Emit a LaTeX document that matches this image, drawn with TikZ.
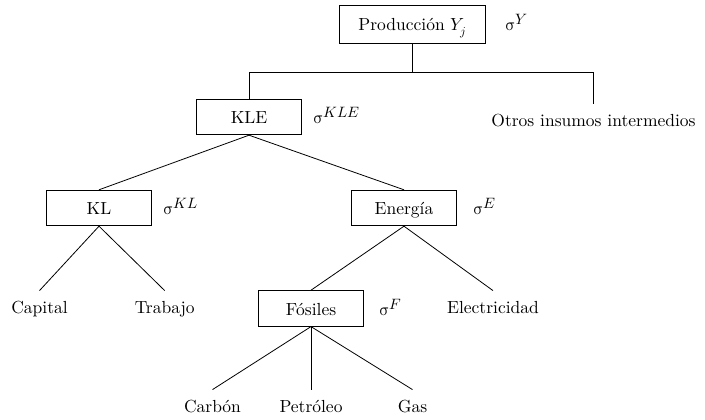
\documentclass[tikz,border=0pt]{standalone}
\usepackage{fontspec}
\usepackage{unicode-math}
\setmainfont{lmroman10-regular.otf}[ItalicFont=lmroman10-italic.otf,BoldFont=lmroman10-bold.otf]
\setmathfont{Latin Modern Math}
\usetikzlibrary{positioning}
\newcommand{\elast}[1]{$\upsigma^{\mbox{\fontsize{15}{17}\selectfont$#1$}}$}
\tikzset{
  every node/.style={font=\fontsize{17.5}{21}\selectfont},
  nest/.style={draw, line width=0.9pt, minimum width=105pt, minimum height=35.5pt,
    text height=15pt, text depth=1pt, inner sep=0pt},
  input/.style={text height=12pt, text depth=4pt, inner xsep=2pt, inner ysep=11pt},
  elas/.style={inner sep=0pt},
}

\begin{document}
\begin{tikzpicture}[x=1pt,y=1pt,line width=0.8pt]
  \useasboundingbox (0,0) rectangle (705,420);
  \node[nest, minimum width=146pt, minimum height=38pt] (prod) at (412.5,396) {Producción $Y_j$};
  \node[elas, base right=19pt of prod] (sy) {\elast{Y}};
  \node[nest] (kle) at (249,303) {KLE};
  \node[elas, base right=11pt of kle] (skle) {\elast{KLE}};
  \node[input] (otros) at (593.5,297) {Otros insumos intermedios};
  \node[nest] (kl) at (99,212) {KL};
  \node[elas, base right=11pt of kl] (skl) {\elast{KL}};
  \node[nest] (energia) at (404,212) {Energía};
  \node[elas, base right=16pt of energia] (se) {\elast{E}};
  \node[input] (capital) at (39.5,110) {Capital};
  \node[input] (trabajo) at (164.7,110) {Trabajo};
  \node[nest] (fosiles) at (311,111.6) {Fósiles};
  \node[elas, base right=15pt of fosiles] (sf) {\elast{F}};
  \node[input] (electricidad) at (493,110) {Electricidad};
  \node[input] (carbon) at (212.5,11) {Carbón};
  \node[input] (petroleo) at (311,11) {Petróleo};
  \node[input] (gas) at (412.5,11) {Gas};
  \coordinate (split) at (0,348);
  % nest Y
  \draw (prod.south) -- (prod.south |- split);
  \draw (kle) -- (kle |- split) -- (otros |- split) -- (otros);
  % nest KLE
  \draw (kle.south) -- (kl.north);
  \draw (kle.south) -- (energia.north);
  % nest KL and E
  \draw (kl.south) -- (capital.north);
  \draw (kl.south) -- (trabajo.north);
  \draw (energia.south) -- (fosiles.north);
  \draw (energia.south) -- (electricidad.north);
  % nest F
  \draw (fosiles.south) -- (carbon.north);
  \draw (fosiles.south) -- (petroleo.north);
  \draw (fosiles.south) -- (gas.north);
\end{tikzpicture}
\end{document}
